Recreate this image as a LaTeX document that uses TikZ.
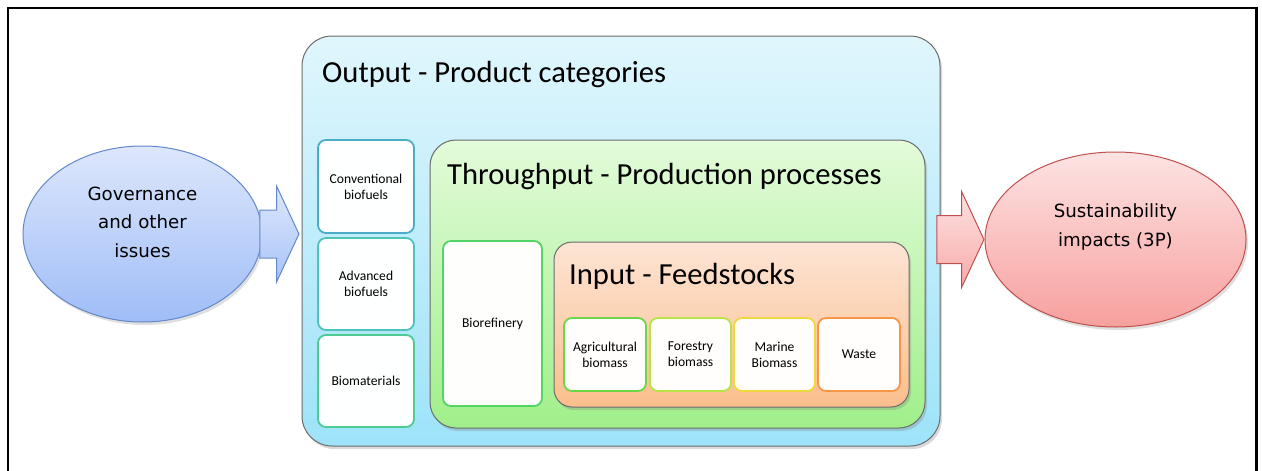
\documentclass[tikz,border=0pt]{standalone}
\usepackage{fontspec}
\setmainfont{Carlito}
\newfontfamily\ellfont{DejaVu Sans}
\usetikzlibrary{shapes, arrows, positioning, calc, shadows}

\definecolor{outtop}{HTML}{E0F6FD}
\definecolor{outbot}{HTML}{9DE3F9}
\definecolor{thrtop}{HTML}{E3FBDA}
\definecolor{thrbot}{HTML}{A0EF8A}
\definecolor{intop}{HTML}{FDE4D5}
\definecolor{inbot}{HTML}{FBBE8C}
\definecolor{govtop}{HTML}{DDE7FC}
\definecolor{govbot}{HTML}{9FBDF7}
\definecolor{govline}{HTML}{6388CB}
\definecolor{sustop}{HTML}{FDE3E3}
\definecolor{susbot}{HTML}{F7A09E}
\definecolor{susline}{HTML}{C0504D}
\definecolor{convline}{HTML}{4BACC6}
\definecolor{advline}{HTML}{4FC2BC}
\definecolor{matline}{HTML}{4ECB94}
\definecolor{refline}{HTML}{54D464}
\definecolor{agrline}{HTML}{6CD746}
\definecolor{forline}{HTML}{B7E446}
\definecolor{marline}{HTML}{F0D840}
\definecolor{wasline}{HTML}{F79646}

\begin{document}
\begin{tikzpicture}[
    x=1pt, y=-1pt,
    % GLOBAL CFG
    font=\fontsize{13.6}{16}\selectfont,
    % Styles
    layer/.style={% For the big nested boxes
        rectangle,
        draw=gray!85!black,
        line width=1pt,
        drop shadow={opacity=0.3, shadow xshift=2pt, shadow yshift=-3pt},
        },
    item/.style={% For the small white boxes
        rectangle,
        rounded corners=8pt,
        line width=1.8pt,
        align=center,
        inner sep=1pt,
        },
    title/.style={% For the titles of the layers
        anchor=west,
        font=\fontsize{30.6}{36}\selectfont,
        inner sep=0pt,
        },
    side/.style={% For the ellipses at both ends
        ellipse,
        line width=1pt,
        inner sep=0pt,
        drop shadow={opacity=0.25, shadow xshift=2pt, shadow yshift=-3pt},
        },
    sidetext/.style={% Text in the ellipses
        font=\ellfont\fontsize{18.2}{28.5}\selectfont,
        align=center,
        },
    bigarrow/.style={% Block arrows
        single arrow,
        anchor=tip,
        line width=1pt,
        inner xsep=0pt,
        inner ysep=23.5pt,
        single arrow head extend=24pt,
        single arrow tip angle=130,
        },
    ]

\useasboundingbox (0,0) rectangle (1262,471);

% Frame round the whole thing
\draw [line width=2.5pt] (8,480) |- (1256.5,8) -- (1256.5,480);

% Layers named output, throughput, input
\node [layer, rounded corners=30pt, top color=outtop, bottom color=outbot,
    minimum width=638pt, minimum height=410pt] (output) at (621,241) {};
\node [title] (outtitle) at (322,75) {Output - Product categories};

\node [item, fill=white!96!outtop, draw=convline, minimum width=96pt, minimum height=93pt]
    (conv) at (366,186.5) {Conventional\\biofuels};
\node [item, fill=white!96!outtop, draw=advline, minimum width=96pt, minimum height=92pt]
    (adv) at (366,284) {Advanced\\biofuels};
\node [item, fill=white!96!outtop, draw=matline, minimum width=96pt, minimum height=92pt]
    (biomat) at (366,381) {Biomaterials};

\node [layer, rounded corners=26pt, top color=thrtop, bottom color=thrbot,
    minimum width=495pt, minimum height=288pt] (throughput) at (677.5,284) {};
\node [title] (thrtitle) at (447,177) {Throughput - Production processes};

\node [item, fill=white!95!thrtop, draw=refline, minimum width=99pt, minimum height=165pt]
    (refinery) at (492.5,323.5) {Biorefinery};

\node [layer, rounded corners=18pt, top color=intop, bottom color=inbot,
    minimum width=355pt, minimum height=165pt] (input) at (731.5,324.5) {};
\node [title] (intitle) at (569,276) {Input - Feedstocks};

% Feedstocks
\node [item, fill=white!96!intop, draw=agrline, minimum width=82pt, minimum height=73pt]
    (agri) at (605,354.5) {Agricultural\\biomass};
\node [item, fill=white!96!intop, draw=forline, minimum width=81pt, minimum height=73pt]
    (forest) at (690.5,354.5) {Forestry\\biomass};
\node [item, fill=white!96!intop, draw=marline, minimum width=81pt, minimum height=73pt]
    (marine) at (774.5,354.5) {Marine\\Biomass};
\node [item, fill=white!96!intop, draw=wasline, minimum width=82pt, minimum height=73pt]
    (waste) at (859,354.5) {Waste};

% Ends
\node [side, top color=govtop, bottom color=govbot, draw=govline,
    minimum width=239pt, minimum height=176pt] (gov) at (142.5,234) {};
\node [sidetext] (govtext) at (142.5,222) {Governance\\and other\\issues};

\node [side, top color=sustop, bottom color=susbot, draw=susline,
    minimum width=261pt, minimum height=175pt] (sus) at (1115.5,239.5) {};
\node [sidetext] (sustext) at (1115.5,227) {Sustainability\\impacts (3P)};

% Block arrows, tip against the next shape
\node [bigarrow, top color=govtop, bottom color=govbot!90!white, draw=govline,
    minimum height=39pt, xshift=-2pt] (govarrow) at (output.west |- gov.east) {};
\node [bigarrow, top color=sustop, bottom color=susbot!90!white, draw=susline,
    minimum height=47pt] (susarrow) at (sus.west) {};

\end{tikzpicture}
\end{document}
